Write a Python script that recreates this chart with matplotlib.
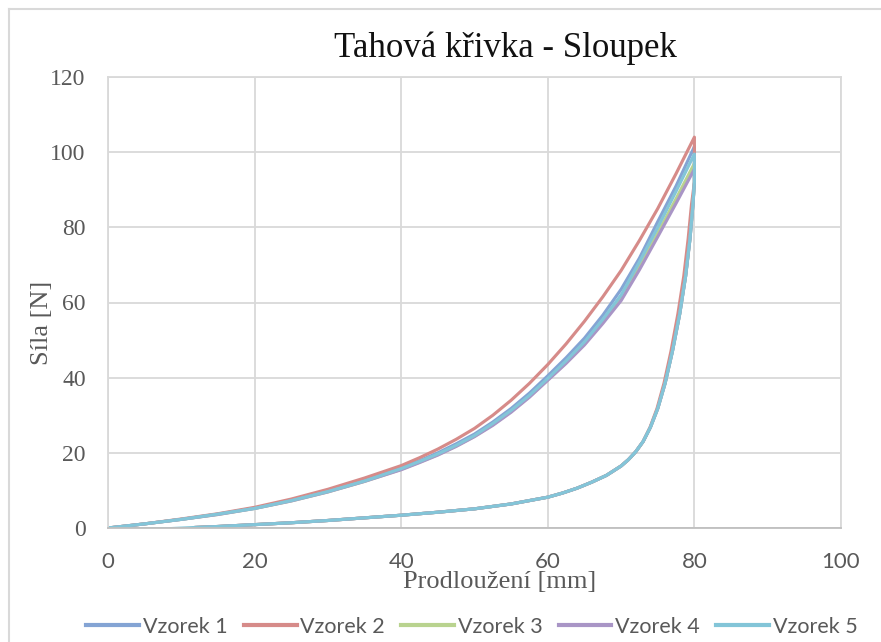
import numpy as np
import matplotlib.pyplot as plt
from matplotlib.lines import Line2D

# Loading branch (elongation in mm, force in N)
x_load = [0, 5, 10, 15, 20, 25, 30, 35, 40, 42.5, 45, 47.5, 50, 52.5, 55, 57.5,
          60, 62.5, 65, 67.5, 70, 72.5, 75, 77.5, 80]
f_load_1 = [0, 1.1, 2.3, 3.7, 5.3, 7.4, 9.9, 12.7, 16.0, 17.9, 20.0, 22.4, 25.0, 28.2, 31.8, 35.9,
            40.5, 45.3, 50.5, 56.6, 63.5, 71.8, 81.5, 91.0, 101.5]
f_load_2 = [0, 1.1, 2.4, 3.8, 5.5, 7.7, 10.3, 13.3, 16.6, 18.7, 21.0, 23.6, 26.5, 30.0, 34.0, 38.5,
            43.5, 49.0, 55.0, 61.5, 68.5, 76.5, 85.0, 94.3, 104.0]
f_load_3 = [0, 1.1, 2.3, 3.6, 5.2, 7.2, 9.6, 12.4, 15.6, 17.5, 19.5, 21.8, 24.4, 27.5, 31.0, 35.0,
            39.5, 44.0, 49.0, 54.8, 61.0, 69.5, 78.5, 87.6, 97.0]
f_load_4 = [0, 1.1, 2.3, 3.6, 5.2, 7.2, 9.6, 12.4, 15.5, 17.4, 19.4, 21.7, 24.3, 27.3, 30.8, 34.8,
            39.3, 43.8, 48.7, 54.4, 60.5, 68.7, 77.5, 86.4, 95.5]
f_load_5 = [0, 1.1, 2.3, 3.7, 5.2, 7.3, 9.7, 12.5, 15.8, 17.7, 19.7, 22.0, 24.6, 27.8, 31.3, 35.3,
            39.8, 44.5, 49.5, 55.5, 62.0, 70.8, 80.0, 89.6, 99.5]

# Unloading branch, shared shape
f_unload = [92, 86, 77, 67, 57, 47, 38.5, 31.8, 26.8, 23.0, 20.3, 18.2, 16.5, 14.0, 12.2,
            10.6, 9.3, 8.2, 6.4, 5.1, 4.2, 3.4, 2.7, 2.0, 1.4, 0.9, 0.4, 0.15]
x_unload = [80, 79.8, 79.4, 78.8, 78, 77, 76, 75, 74, 73, 72, 71, 70, 68, 66,
            64, 62, 60, 55, 50, 45, 40, 35, 30, 25, 20, 15, 12]
x_unload_2 = [80, 79.6, 79.15, 78.55, 77.75, 76.8, 75.85, 74.9, 73.95, 73, 72, 71, 70, 68, 66,
              64, 62, 60, 55, 50, 45, 40, 35, 30, 25, 20, 15, 12]
# sample 5 runs on back to the origin
x_tail_5 = [8, 5, 2, 0]
f_tail_5 = [-0.2, -0.3, -0.15, 0.1]

labels = ["Vzorek 1", "Vzorek 2", "Vzorek 3", "Vzorek 4", "Vzorek 5"]
colors = ["#84A4D4", "#D68B89", "#B9D38F", "#A995C6", "#83C5D8"]

curves = [
    (x_load + x_unload, f_load_1 + f_unload),
    (x_load + x_unload_2, f_load_2 + f_unload),
    (x_load + x_unload, f_load_3 + f_unload),
    (x_load + x_unload, f_load_4 + f_unload),
    (x_load + x_unload + x_tail_5, f_load_5 + f_unload + f_tail_5),
]

fig = plt.figure(figsize=(8.81, 6.42), dpi=100)
ax = fig.add_axes([108 / 881, 1 - 528 / 642, 733 / 881, 451 / 642])

for (xs, ys), c, lab in zip(curves, colors, labels):
    ax.plot(xs, ys, color=c, lw=2.25, label=lab, solid_joinstyle="round")

ax.set_xlim(0, 100)
ax.set_ylim(0, 120)
ax.set_xticks(np.arange(0, 101, 20))
ax.set_yticks(np.arange(0, 121, 20))
ax.grid(True, color="#D9D9D9", lw=1.3)
ax.set_axisbelow(True)
for side in ax.spines:
    ax.spines[side].set_color("#D9D9D9")
    ax.spines[side].set_linewidth(1.3)
ax.spines["bottom"].set_color("#BFBFBF")
ax.tick_params(length=0)
ax.tick_params(axis="y", pad=16, labelsize=17, labelcolor="#595959")
ax.tick_params(axis="x", pad=17, labelsize=16, labelcolor="#595959")
for t in ax.get_yticklabels():
    t.set_family("Liberation Serif")
for t in ax.get_xticklabels():
    t.set_family("Lato")

ax.set_title("Tahová křivka - Sloupek", family="Liberation Serif", fontsize=25,
             color="#111111", x=(505 - 108) / 733, y=1 + 29 / 451, va="center", pad=0)

ax.set_xlabel("Prodloužení [mm]", family="Liberation Serif", fontsize=19, color="#595959")
ax.xaxis.set_label_coords((500 - 108) / 733, (528 - 582) / 451)
ax.xaxis.label.set_va("center")
ax.set_ylabel("Síla [N]", family="Liberation Serif", fontsize=19, color="#595959")
ax.yaxis.set_label_coords((42 - 108) / 733, (528 - 323) / 451)
ax.yaxis.label.set_va("center")

handles = [Line2D([], [], color=c, lw=3) for c in colors]
leg = fig.legend(handles, labels, loc="center", ncol=5, frameon=False,
                 bbox_to_anchor=(472 / 881, 1 - 627 / 642),
                 prop={"family": "Lato", "size": 15.5},
                 handlelength=2.45, handletextpad=0.18, columnspacing=0.75)
for t in leg.get_texts():
    t.set_color("#595959")

# outer chart frame
fig.add_artist(Line2D([9 / 881, 9 / 881], [0, 1 - 9 / 642], transform=fig.transFigure,
                      color="#D9D9D9", lw=1.5))
fig.add_artist(Line2D([9 / 881, 1], [1 - 9 / 642, 1 - 9 / 642], transform=fig.transFigure,
                      color="#D9D9D9", lw=1.5))

fig.savefig("out.png", dpi=100)
